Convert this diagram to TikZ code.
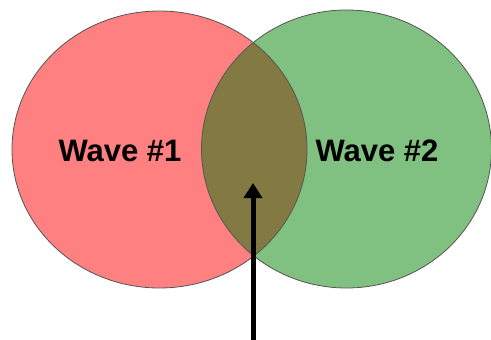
\documentclass[tikz,border=0pt]{standalone}
\usepackage{fontspec}
\setmainfont{Liberation Sans}
\usetikzlibrary{shapes.geometric,arrows.meta}
\definecolor{wred}{RGB}{255,128,128}
\definecolor{wgreen}{RGB}{128,192,128}
\definecolor{wmix}{RGB}{130,122,66}
\definecolor{wedge}{RGB}{85,85,85}
\tikzset{
  wave/.style={ellipse, inner sep=0pt, draw=wedge, line width=0.8pt},
  label/.style={font=\fontsize{31}{36}\selectfont\bfseries, inner sep=0pt},
  pointer/.style={line width=5pt, -{Triangle[width=18pt,length=15pt]}}
}
\begin{document}
\begin{tikzpicture}[x=1pt,y=-1pt]
\useasboundingbox (0,0) rectangle (491,340);
\fill[wred] (159.5,149.5) ellipse [x radius=147.5, y radius=138.5];
\fill[wgreen] (346.5,149) ellipse [x radius=145, y radius=139];
\begin{scope}
  \clip (159.5,149.5) ellipse [x radius=147.5, y radius=138.5];
  \fill[wmix] (346.5,149) ellipse [x radius=145, y radius=139];
\end{scope}
\node[wave, minimum width=295pt, minimum height=277pt] (w1) at (159.5,149.5) {};
\node[wave, minimum width=290pt, minimum height=278pt] (w2) at (346.5,149) {};
\node[label] (t1) at (120,151) {Wave \#1};
\node[label] (t2) at (377,151) {Wave \#2};
\coordinate (start) at (253,340);
\coordinate (tip) at (253,183);
\draw[pointer] (start) -- (tip);
\end{tikzpicture}
\end{document}
